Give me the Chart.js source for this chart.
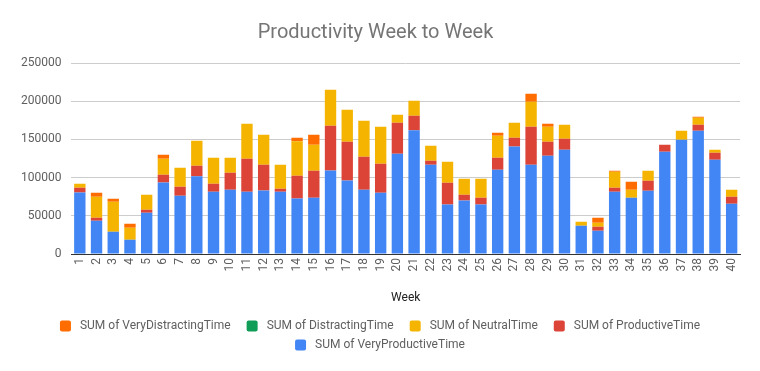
<!DOCTYPE html>
<html>
<head>
<meta charset="utf-8">
<script src="https://cdn.jsdelivr.net/npm/chart.js@4/dist/chart.umd.min.js"></script>
<style>
html,body{margin:0;padding:0;background:#fff;}
#wrap{width:760px;height:371px;}
</style>
</head>
<body>
<div id="wrap"><canvas id="c" width="760" height="371"></canvas></div>
<script>
const weeks = ["1","2","3","4","5","6","7","8","9","10","11","12","13","14","15","16","17","18","19","20","21","22","23","24","25","26","27","28","29","30","31","32","33","34","35","36","37","38","39","40"];
const veryProductive = [80700,43600,29200,18800,54100,93800,76400,101700,81600,84200,81600,83300,81600,72900,73700,109500,96400,84200,80300,131300,161900,116900,65000,70200,65000,110400,140900,116900,128700,136600,37100,30500,81600,73700,82900,133900,149700,161400,123500,65900];
const productive = [6100,4000,0,0,3900,10000,11700,13900,10400,22300,43200,33600,3900,29600,35400,58500,50600,43200,37900,40600,19200,5300,28400,7500,8700,15700,11400,49800,18300,14400,0,5300,5200,0,13100,9200,0,7900,9100,9100];
const neutral = [5200,27400,39300,15700,19700,21000,24900,32700,34100,19600,45800,39300,31400,45000,34000,47100,41900,47100,48500,10500,19600,19600,27500,20900,24900,28800,19600,32700,19700,18300,5200,5200,21000,10500,13100,0,11700,9100,4000,9200];
const distracting = [0,0,0,0,0,0,0,0,0,0,0,0,0,0,0,0,0,0,0,0,0,0,0,0,0,0,0,0,0,0,0,0,0,0,0,0,0,0,0,0];
const veryDistracting = [0,5300,3900,5200,0,5200,0,0,0,0,0,0,0,4800,13100,0,0,0,0,0,0,0,0,0,0,3900,0,10500,3900,0,0,6600,1300,10500,0,0,0,1400,0,0];
const yTicks = [0,50000,100000,150000,200000,250000];

const ds = (label, data, color) => ({label, data, backgroundColor: color, borderWidth: 0, categoryPercentage: 0.68, barPercentage: 1});

// Legend drawn on the canvas with Chart.js dataset labels/colours (Google-style spacing)
const sheetLegend = {
  id: 'sheetLegend',
  afterDraw(chart) {
    const ctx = chart.ctx;
    const items = chart.data.datasets.map(d => ({text: d.label, color: d.backgroundColor})).reverse();
    ctx.save();
    ctx.font = '12px Roboto';
    const box = 11, gap = 9, itemGap = 16, maxW = chart.width - 40;
    const rows = [];
    let cur = [], w = 0;
    items.forEach(it => {
      it.tw = ctx.measureText(it.text).width;
      const iw = box + gap + it.tw;
      if (cur.length && w + itemGap + iw > maxW) { rows.push({items: cur, w}); cur = []; w = 0; }
      w += (cur.length ? itemGap : 0) + iw;
      cur.push(it);
    });
    if (cur.length) rows.push({items: cur, w});
    const rowY = [chart.height - 45, chart.height - 26];
    rows.forEach((r, ri) => {
      let x = chart.width / 2 - r.w / 2;
      const y = rowY[ri] !== undefined ? rowY[ri] : rowY[1] + 19 * (ri - 1);
      r.items.forEach(it => {
        ctx.fillStyle = it.color;
        ctx.beginPath();
        ctx.roundRect(x, y - box / 2, box, box, 2);
        ctx.fill();
        ctx.fillStyle = '#5f5f5f';
        ctx.textBaseline = 'middle';
        ctx.textAlign = 'left';
        ctx.fillText(it.text, x + box + gap, y);
        x += box + gap + it.tw + itemGap;
      });
    });
    ctx.restore();
  }
};

new Chart(document.getElementById('c'), {
  type: 'bar',
  data: {
    labels: weeks,
    datasets: [
      ds('SUM of VeryProductiveTime', veryProductive, '#4285f4'),
      ds('SUM of ProductiveTime', productive, '#db4437'),
      ds('SUM of NeutralTime', neutral, '#f4b400'),
      ds('SUM of DistractingTime', distracting, '#0f9d58'),
      ds('SUM of VeryDistractingTime', veryDistracting, '#ff6d00')
    ]
  },
  options: {
    responsive: false,
    animation: false,
    layout: {padding: {left: 11, right: 20, top: 0, bottom: 66}},
    plugins: {
      title: {display: true, text: 'Productivity Week to Week', color: '#757575',
        font: {family: 'Roboto', size: 20, weight: 'normal'}, padding: {top: 21, bottom: 18}},
      legend: {display: false},
      tooltip: {enabled: false}
    },
    scales: {
      x: {stacked: true,
        grid: {display: false, drawTicks: false},
        border: {color: '#333'},
        ticks: {color: '#5f5f5f', padding: 4, minRotation: 90, maxRotation: 90, autoSkip: false, font: {family: 'Roboto', size: 12}},
        title: {display: true, text: 'Week', color: '#222', font: {family: 'Roboto', size: 12}, padding: {top: 15, bottom: 0}}
      },
      y: {stacked: true, min: 0, max: 250000,
        afterBuildTicks: (axis) => { axis.ticks = yTicks.map(v => ({value: v})); },
        grid: {color: '#cccccc', drawTicks: false},
        border: {display: false},
        ticks: {color: '#5f5f5f', padding: 10, font: {family: 'Roboto', size: 12}, callback: v => String(v)}
      }
    }
  },
  plugins: [sheetLegend]
});
</script>
</body>
</html>
